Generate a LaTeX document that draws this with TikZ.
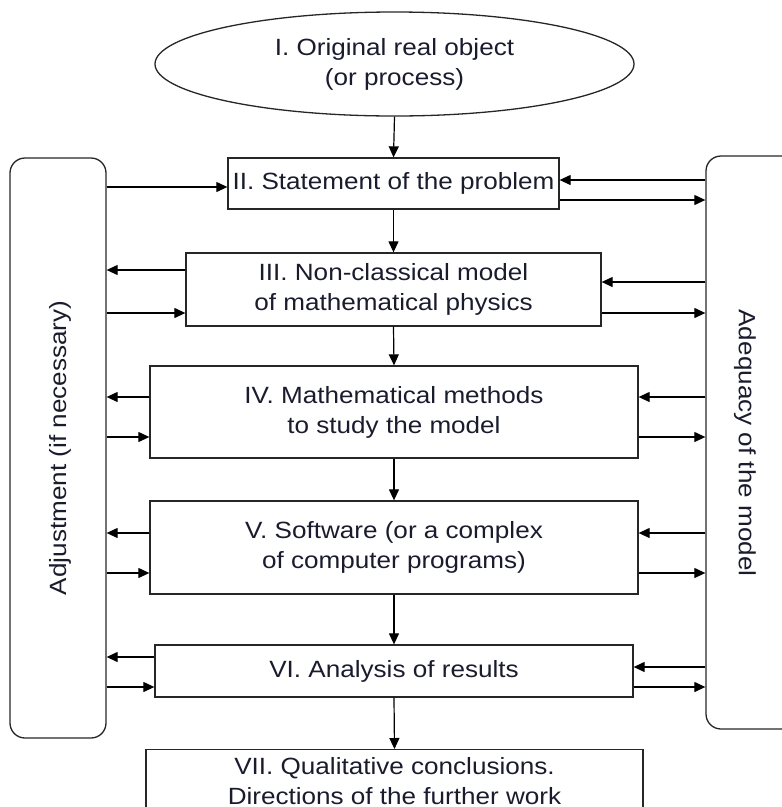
\documentclass[tikz,border=0pt]{standalone}
\usepackage{fontspec}
\setmainfont{Liberation Sans}[FakeStretch=1.11]
\usepackage{tikz}
\usetikzlibrary{arrows.meta,positioning,shapes.geometric}
\definecolor{ink}{HTML}{1A1C2E}
\definecolor{frame}{HTML}{262626}
\tikzset{
  stage/.style={draw=frame,line width=1.3pt,align=center,inner sep=0pt,text=ink,
    font=\fontsize{23.5}{30}\selectfont},
  origin/.style={stage,ellipse},
  panel/.style={draw=frame,line width=1.3pt,rounded corners=15pt},
  sidetext/.style={text=ink,font=\fontsize{23.5}{30}\selectfont,inner sep=0pt},
  arrow/.style={-{Triangle[length=11pt,width=10pt]},draw=black,line width=1.2pt}
}

\begin{document}
\begin{tikzpicture}[x=1pt,y=-1pt]
  \useasboundingbox (0,0) rectangle (782,807);
  \clip (0,0) rectangle (782,807);
  % main chain
  \node[origin,minimum width=479pt,minimum height=104pt] (orig) at (394.5,64) {I. Original real object\\(or process)};
  \node[stage,minimum width=331pt,minimum height=51pt] (stmt) at (393.5,183.5) {II. Statement of the problem};
  \node[stage,minimum width=415pt,minimum height=73pt] (model) at (393.5,289.5) {III. Non-classical model\\of mathematical physics};
  \node[stage,minimum width=488pt,minimum height=92pt] (meth) at (394,412) {IV. Mathematical methods\\to study the model};
  \node[stage,minimum width=488pt,minimum height=93pt] (soft) at (394,547.5) {V. Software (or a complex\\of computer programs)};
  \node[stage,minimum width=478pt,minimum height=52pt] (anal) at (394,671) {VI. Analysis of results};
  \node[stage,anchor=north,minimum width=497pt,minimum height=63pt] (concl) at (394.5,749) {VII. Qualitative conclusions.\\Directions of the further work};
  % side panels
  \node[panel,minimum width=96pt,minimum height=580pt] (adj) at (58,448) {};
  \node[panel,minimum width=96pt,minimum height=573pt] (adeq) at (754,442.5) {};
  \node[sidetext,rotate=90] (adjtxt) at (60,448) {Adjustment (if necessary)};
  \node[sidetext,rotate=-90] (adeqtxt) at (745,443) {Adequacy of the model};

  \draw[arrow] (orig.south) -- (stmt.north);
  \draw[arrow] (stmt.south) -- (model.north);
  \draw[arrow] (model.south) -- (meth.north);
  \draw[arrow] (meth.south) -- (soft.north);
  \draw[arrow] (soft.south) -- (anal.north);
  \draw[arrow] (anal.south) -- (concl.north);

  % left feedback
  \draw[arrow] (adj.east |- 0,187) -- (stmt.west |- 0,187);
  \draw[arrow] (model.west |- 0,270) -- (adj.east |- 0,270);
  \draw[arrow] (adj.east |- 0,313) -- (model.west |- 0,313);
  \draw[arrow] (meth.west |- 0,397) -- (adj.east |- 0,397);
  \draw[arrow] (adj.east |- 0,437) -- (meth.west |- 0,437);
  \draw[arrow] (soft.west |- 0,533) -- (adj.east |- 0,533);
  \draw[arrow] (adj.east |- 0,573) -- (soft.west |- 0,573);
  \draw[arrow] (anal.west |- 0,657) -- (adj.east |- 0,657);
  \draw[arrow] (adj.east |- 0,687) -- (anal.west |- 0,687);

  % right feedback
  \draw[arrow] (adeq.west |- 0,180) -- (stmt.east |- 0,180);
  \draw[arrow] (stmt.east |- 0,200) -- (adeq.west |- 0,200);
  \draw[arrow] (adeq.west |- 0,282) -- (model.east |- 0,282);
  \draw[arrow] (model.east |- 0,313) -- (adeq.west |- 0,313);
  \draw[arrow] (adeq.west |- 0,397) -- (meth.east |- 0,397);
  \draw[arrow] (meth.east |- 0,437) -- (adeq.west |- 0,437);
  \draw[arrow] (adeq.west |- 0,533) -- (soft.east |- 0,533);
  \draw[arrow] (soft.east |- 0,573) -- (adeq.west |- 0,573);
  \draw[arrow] (adeq.west |- 0,667) -- (anal.east |- 0,667);
  \draw[arrow] (anal.east |- 0,687) -- (adeq.west |- 0,687);
\end{tikzpicture}
\end{document}
